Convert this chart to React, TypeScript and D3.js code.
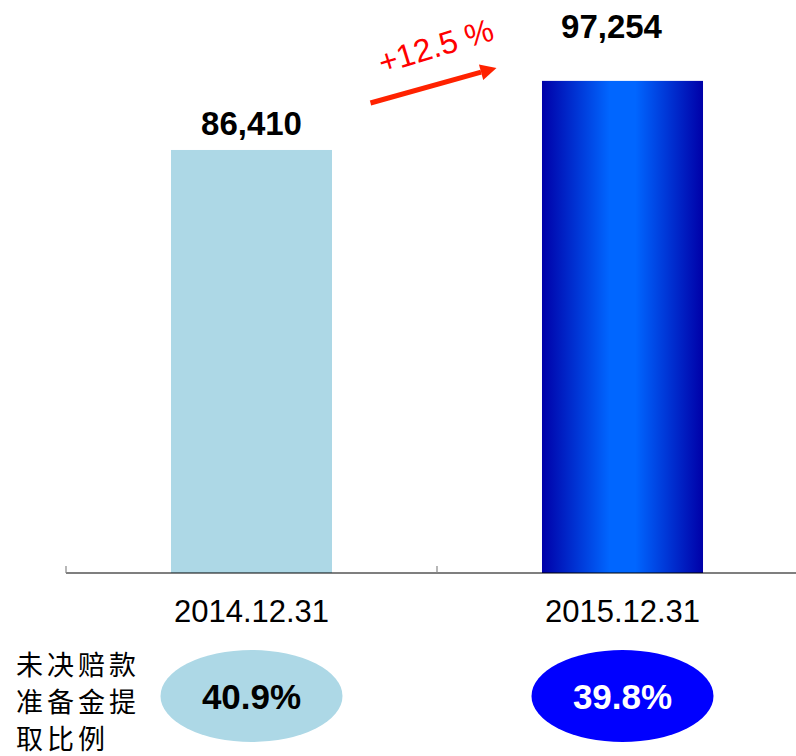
import * as d3 from "d3";

const categories = ["2014.12.31", "2015.12.31"];
const values = [86410, 97254];
const ratios = ["40.9%", "39.8%"];
const growthLabel = "+12.5 %";
const sideLabel = ["未决赔款", "准备金提", "取比例"];

export default function App() {
  const width = 796;
  const height = 756;
  const baseY = 573;

  const x = d3.scaleBand().domain(categories).range([66, 808]).paddingInner(0.566).paddingOuter(0.283);
  const y = d3.scaleLinear().domain([20000, 100000]).range([baseY, 63.4]);
  const fmt = d3.format(",");
  const cx = (c: string) => (x(c) as number) + x.bandwidth() / 2;
  const tickXs = d3.range(categories.length + 1).map((i) => 66 + i * x.step());

  // annotation arrow between the bars
  const a0 = [cx(categories[0]) + 119, y(values[0]) - 47];
  const a1 = [cx(categories[1]) - 126, y(values[1]) - 13];
  const ang = Math.atan2(a1[1] - a0[1], a1[0] - a0[0]);
  const headLen = 16;
  const headW = 8;
  const hb = [a1[0] - headLen * Math.cos(ang), a1[1] - headLen * Math.sin(ang)];
  const nx = -Math.sin(ang), ny = Math.cos(ang);
  const head = `M${a1[0]},${a1[1]} L${hb[0] + nx * headW},${hb[1] + ny * headW} L${hb[0] - nx * headW},${hb[1] - ny * headW} Z`;

  const labelOffsets = [
    { dx: 0, dy: -15 },
    { dx: -11, dy: -43 },
  ];
  const ellipseFill = ["#add8e6", "#0000ff"];
  const ellipseText = ["#000", "#fff"];

  return (
    <svg width={width} height={height} style={{ position: "absolute", left: 0, top: 0 }}>
      <defs>
        <linearGradient id="blueGrad" x1="0" x2="1" y1="0" y2="0">
          <stop offset="0" stopColor="#0000a8" />
          <stop offset="0.42" stopColor="#0066ff" />
          <stop offset="0.58" stopColor="#0066ff" />
          <stop offset="1" stopColor="#0000a8" />
        </linearGradient>
      </defs>
      {categories.map((c, i) => (
        <rect
          key={c}
          x={x(c)}
          y={y(values[i])}
          width={x.bandwidth()}
          height={baseY - y(values[i])}
          fill={i === 0 ? "#add8e6" : "url(#blueGrad)"}
        />
      ))}
      <line x1={66} x2={808} y1={baseY} y2={baseY} stroke="#000" strokeWidth={1.2} />
      {tickXs.map((t) => (
        <line key={t} x1={t} x2={t} y1={baseY - 7} y2={baseY} stroke="#888" strokeWidth={1.2} />
      ))}
      {categories.map((c) => (
        <text key={c} x={cx(c)} y={622} textAnchor="middle" fontFamily="Liberation Sans, Arial, sans-serif" fontSize={31} fill="#000">
          {c}
        </text>
      ))}
      {categories.map((c, i) => (
        <text
          key={c}
          x={cx(c) + labelOffsets[i].dx}
          y={y(values[i]) + labelOffsets[i].dy}
          textAnchor="middle"
          fontFamily="Liberation Sans, Arial, sans-serif"
          fontWeight="bold"
          fontSize={33}
          fill="#000"
        >
          {fmt(values[i])}
        </text>
      ))}
      <line x1={a0[0]} y1={a0[1]} x2={hb[0]} y2={hb[1]} stroke="#ff2200" strokeWidth={5} />
      <path d={head} fill="#ff2200" />
      <text
        transform={`translate(${a0[0] + 12},${a0[1] - 29}) rotate(-17)`}
        fontFamily="Liberation Sans, Arial, sans-serif"
        fontSize={32}
        fill="#ff0000"
      >
        {growthLabel}
      </text>
      {categories.map((c, i) => (
        <g key={c}>
          <ellipse cx={cx(c)} cy={696} rx={91} ry={46} fill={ellipseFill[i]} />
          <text x={cx(c)} y={709} textAnchor="middle" fontFamily="Liberation Sans, Arial, sans-serif" fontWeight="bold" fontSize={35} fill={ellipseText[i]}>
            {ratios[i]}
          </text>
        </g>
      ))}
      {sideLabel.map((s, i) => (
        <text key={s} x={16} y={675 + i * 37} fontFamily="Noto Sans CJK SC, sans-serif" fontSize={27} letterSpacing={4} fill="#000">
          {s}
        </text>
      ))}
    </svg>
  );
}
